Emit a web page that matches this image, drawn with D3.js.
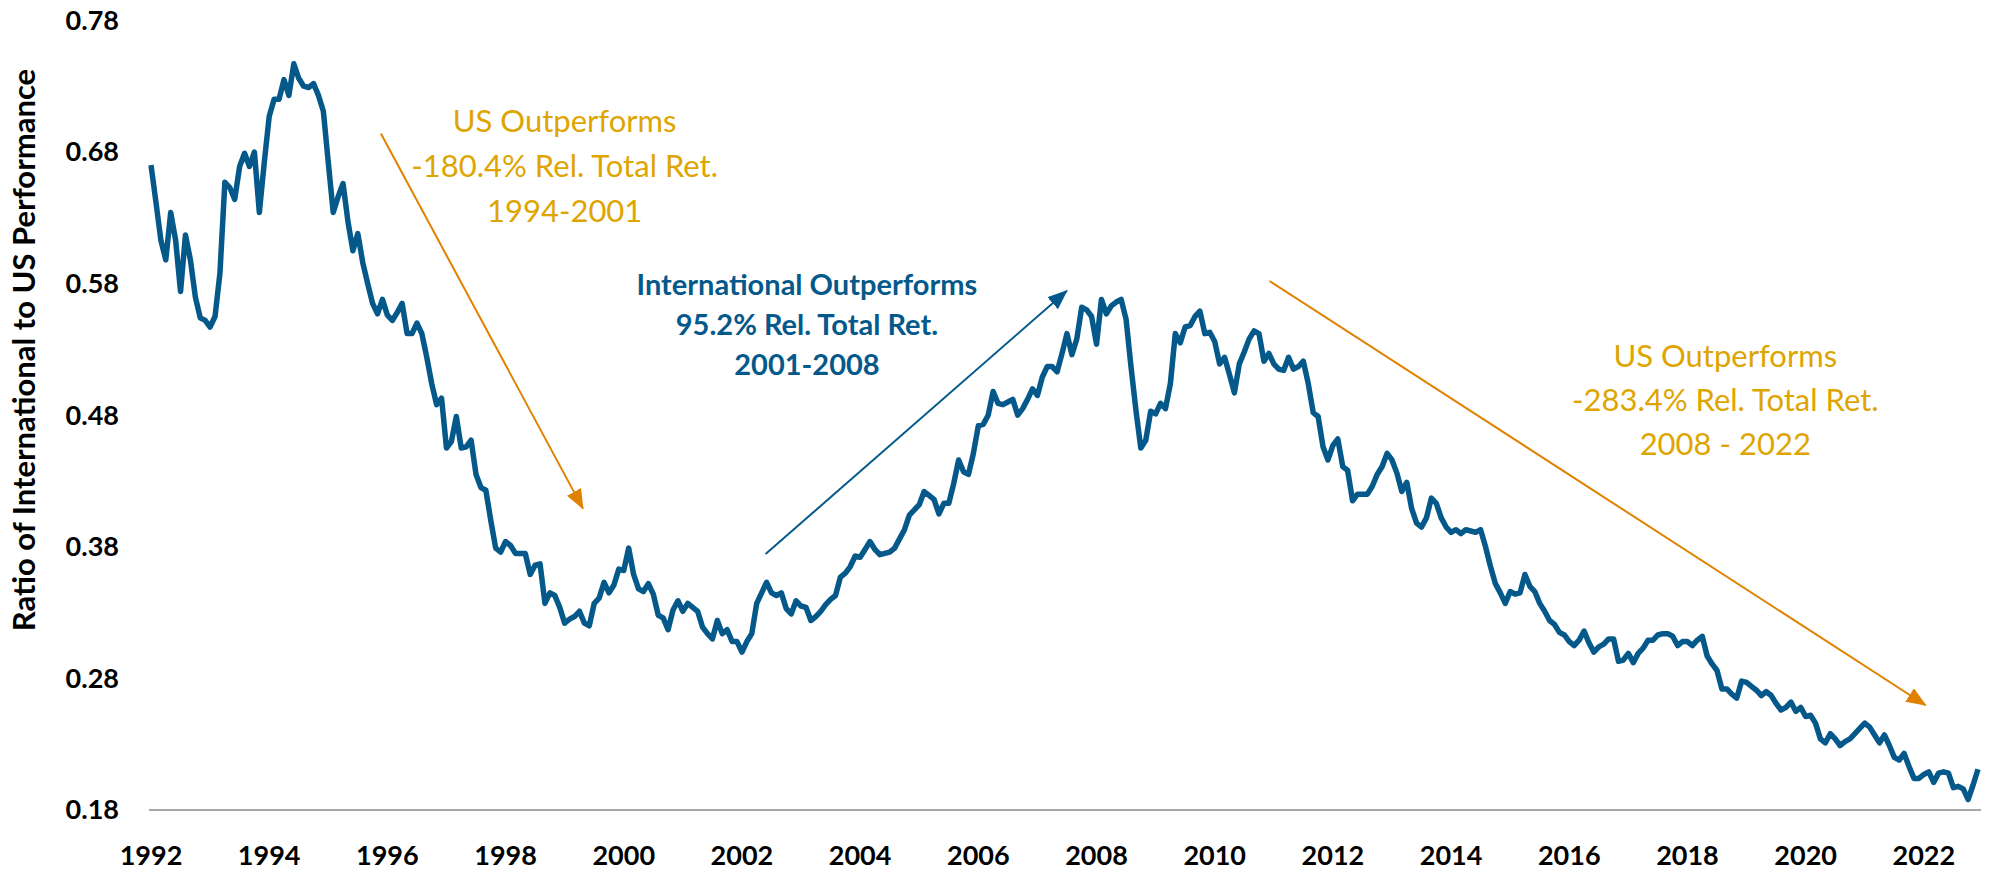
<!DOCTYPE html>
<html>
<head>
<meta charset="utf-8">
<script src="https://cdn.jsdelivr.net/npm/d3@7"></script>
<style>
  body { margin: 0; background: #fff; }
  text { font-family: Lato, "Open Sans", sans-serif; }
</style>
</head>
<body>
<div id="chart"></div>
<script>
// ratio of international to US performance, monthly, Jan 1992 - Dec 2022
var startYear = 1992;
var ratio = [
  0.670, 0.642, 0.613, 0.598, 0.634, 0.613, 0.574, 0.617, 0.598, 0.570, 0.554, 0.552, // 1992
  0.547, 0.555, 0.588, 0.657, 0.653, 0.644, 0.669, 0.679, 0.669, 0.680, 0.634, 0.672, // 1993
  0.707, 0.720, 0.720, 0.735, 0.723, 0.747, 0.736, 0.730, 0.729, 0.732, 0.723, 0.711, // 1994
  0.672, 0.634, 0.646, 0.656, 0.627, 0.605, 0.618, 0.596, 0.580, 0.565, 0.557, 0.568, // 1995
  0.556, 0.552, 0.558, 0.565, 0.542, 0.542, 0.550, 0.542, 0.524, 0.504, 0.488, 0.493, // 1996
  0.455, 0.460, 0.479, 0.455, 0.456, 0.461, 0.435, 0.425, 0.423, 0.400, 0.379, 0.376, // 1997
  0.384, 0.381, 0.375, 0.375, 0.375, 0.359, 0.366, 0.367, 0.337, 0.345, 0.343, 0.334, // 1998
  0.322, 0.325, 0.327, 0.331, 0.322, 0.320, 0.337, 0.341, 0.353, 0.345, 0.351, 0.363, // 1999
  0.362, 0.379, 0.359, 0.348, 0.346, 0.352, 0.344, 0.328, 0.326, 0.317, 0.332, 0.339, // 2000
  0.331, 0.337, 0.334, 0.331, 0.319, 0.314, 0.310, 0.324, 0.314, 0.317, 0.308, 0.308, // 2001
  0.300, 0.308, 0.314, 0.337, 0.345, 0.353, 0.345, 0.343, 0.345, 0.333, 0.329, 0.339, // 2002
  0.335, 0.334, 0.324, 0.327, 0.331, 0.336, 0.340, 0.343, 0.357, 0.360, 0.365, 0.373, // 2003
  0.372, 0.378, 0.384, 0.378, 0.374, 0.375, 0.376, 0.379, 0.386, 0.393, 0.404, 0.408, // 2004
  0.412, 0.422, 0.419, 0.416, 0.405, 0.413, 0.413, 0.428, 0.446, 0.437, 0.435, 0.451, // 2005
  0.472, 0.473, 0.480, 0.498, 0.489, 0.488, 0.490, 0.492, 0.480, 0.485, 0.492, 0.500, // 2006
  0.495, 0.509, 0.517, 0.517, 0.513, 0.527, 0.542, 0.526, 0.538, 0.562, 0.560, 0.555, // 2007
  0.534, 0.568, 0.557, 0.563, 0.566, 0.568, 0.553, 0.517, 0.484, 0.455, 0.461, 0.483, // 2008
  0.481, 0.489, 0.485, 0.504, 0.542, 0.535, 0.547, 0.548, 0.555, 0.559, 0.542, 0.543, // 2009
  0.536, 0.519, 0.524, 0.511, 0.497, 0.519, 0.528, 0.538, 0.544, 0.542, 0.521, 0.527, // 2010
  0.519, 0.515, 0.514, 0.524, 0.515, 0.517, 0.521, 0.504, 0.482, 0.479, 0.456, 0.446, // 2011
  0.457, 0.462, 0.441, 0.438, 0.415, 0.420, 0.420, 0.420, 0.426, 0.435, 0.441, 0.451, // 2012
  0.446, 0.436, 0.422, 0.429, 0.409, 0.398, 0.395, 0.402, 0.417, 0.413, 0.402, 0.395, // 2013
  0.391, 0.393, 0.390, 0.393, 0.392, 0.391, 0.393, 0.380, 0.365, 0.352, 0.345, 0.337, // 2014
  0.346, 0.344, 0.345, 0.359, 0.350, 0.346, 0.337, 0.331, 0.324, 0.321, 0.315, 0.313, // 2015
  0.308, 0.305, 0.309, 0.316, 0.307, 0.300, 0.304, 0.306, 0.310, 0.310, 0.293, 0.294, // 2016
  0.299, 0.292, 0.299, 0.303, 0.309, 0.309, 0.313, 0.314, 0.314, 0.312, 0.305, 0.308, // 2017
  0.308, 0.305, 0.309, 0.312, 0.297, 0.291, 0.286, 0.272, 0.272, 0.268, 0.265, 0.278, // 2018
  0.277, 0.274, 0.271, 0.267, 0.270, 0.267, 0.261, 0.256, 0.258, 0.262, 0.255, 0.258, // 2019
  0.251, 0.252, 0.246, 0.234, 0.231, 0.238, 0.234, 0.229, 0.232, 0.234, 0.238, 0.242, // 2020
  0.246, 0.243, 0.237, 0.231, 0.237, 0.229, 0.220, 0.218, 0.223, 0.213, 0.204, 0.204, // 2021
  0.207, 0.209, 0.201, 0.208, 0.209, 0.208, 0.197, 0.198, 0.196, 0.188, 0.199, 0.211  // 2022
];

var yTicks = [0.18, 0.28, 0.38, 0.48, 0.58, 0.68, 0.78];
var xTicks = [1992, 1994, 1996, 1998, 2000, 2002, 2004, 2006, 2008, 2010, 2012, 2014, 2016, 2018, 2020, 2022];

// annotations: text lines, anchor (year, value), arrow from/to in (year, value)
var notes = [
  { lines: ["US Outperforms", "-180.4% Rel. Total Ret.", "1994-2001"], x: 1999.0, y: 0.695, color: "#DEA500", weight: 400, size: 31, gap: 45 },
  { lines: ["International Outperforms", "95.2% Rel. Total Ret.", "2001-2008"], x: 2003.1, y: 0.571, color: "#05598A", weight: 700, size: 29, gap: 40 },
  { lines: ["US Outperforms", "-283.4% Rel. Total Ret.", "2008 - 2022"], x: 2018.64, y: 0.5166, color: "#DEA500", weight: 400, size: 31, gap: 44 }
];
var arrows = [
  { from: [1995.89, 0.694], to: [1999.31, 0.409], color: "#E08200" },
  { from: [2002.40, 0.3745], to: [2007.50, 0.5746], color: "#05598A" },
  { from: [2010.93, 0.582], to: [2022.03, 0.2596], color: "#E08200" }
];

var svgWidth = 1992;
var svgHeight = 872;

var svg = d3.select("#chart")
  .append("svg")
  .attr("width", svgWidth)
  .attr("height", svgHeight);

var data = ratio.map(function(v, i) {
  return { t: startYear + i / 12, v: v };
});

var xScale = d3.scaleLinear()
  .domain([startYear, startYear + (ratio.length - 1) / 12])
  .range([151, 1978]);

var yScale = d3.scaleLinear()
  .domain([0.18, 0.78])
  .range([810, 20.4]);

// baseline
svg.append("line")
  .attr("x1", 149).attr("x2", 1981)
  .attr("y1", yScale(0.18)).attr("y2", yScale(0.18))
  .attr("stroke", "#a6a6a6")
  .attr("stroke-width", 2);

// y tick labels
svg.selectAll(".ylab")
  .data(yTicks)
  .enter()
  .append("text")
  .attr("class", "ylab")
  .attr("x", 119)
  .attr("y", d => yScale(d))
  .attr("dy", "0.35em")
  .attr("text-anchor", "end")
  .attr("font-size", 27)
  .attr("font-weight", 700)
  .attr("fill", "#000")
  .text(d => d.toFixed(2));

// x tick labels
svg.selectAll(".xlab")
  .data(xTicks)
  .enter()
  .append("text")
  .attr("class", "xlab")
  .attr("x", d => xScale(d))
  .attr("y", 865)
  .attr("text-anchor", "middle")
  .attr("font-size", 27)
  .attr("font-weight", 700)
  .attr("fill", "#000")
  .text(d => d);

// y axis title
svg.append("text")
  .attr("transform", "translate(35,350) rotate(-90)")
  .attr("text-anchor", "middle")
  .attr("font-size", 31)
  .attr("font-weight", 700)
  .attr("fill", "#000")
  .text("Ratio of International to US Performance");

// the series line
var createLine = d3.line()
  .x(d => xScale(d.t))
  .y(d => yScale(d.v));

svg.append("path")
  .attr("d", createLine(data))
  .attr("fill", "none")
  .attr("stroke", "#05598A")
  .attr("stroke-width", 5.5)
  .attr("stroke-linejoin", "round");

// arrow markers
var defs = svg.append("defs");
arrows.forEach(function(a, i) {
  defs.append("marker")
    .attr("id", "head" + i)
    .attr("markerUnits", "userSpaceOnUse")
    .attr("markerWidth", 20)
    .attr("markerHeight", 16)
    .attr("refX", 19)
    .attr("refY", 8)
    .attr("orient", "auto")
    .append("path")
    .attr("d", "M0,0 L20,8 L0,16 Z")
    .attr("fill", a.color);
});

svg.selectAll(".arrow")
  .data(arrows)
  .enter()
  .append("line")
  .attr("class", "arrow")
  .attr("x1", d => xScale(d.from[0]))
  .attr("y1", d => yScale(d.from[1]))
  .attr("x2", d => xScale(d.to[0]))
  .attr("y2", d => yScale(d.to[1]))
  .attr("stroke", d => d.color)
  .attr("stroke-width", 2)
  .attr("marker-end", (d, i) => "url(#head" + i + ")");

// annotation text
notes.forEach(function(n) {
  var t = svg.append("text")
    .attr("text-anchor", "middle")
    .attr("font-size", n.size)
    .attr("font-weight", n.weight)
    .attr("fill", n.color);
  n.lines.forEach(function(line, i) {
    t.append("tspan")
      .attr("x", xScale(n.x))
      .attr("y", yScale(n.y) + i * n.gap)
      .text(line);
  });
});
</script>
</body>
</html>
